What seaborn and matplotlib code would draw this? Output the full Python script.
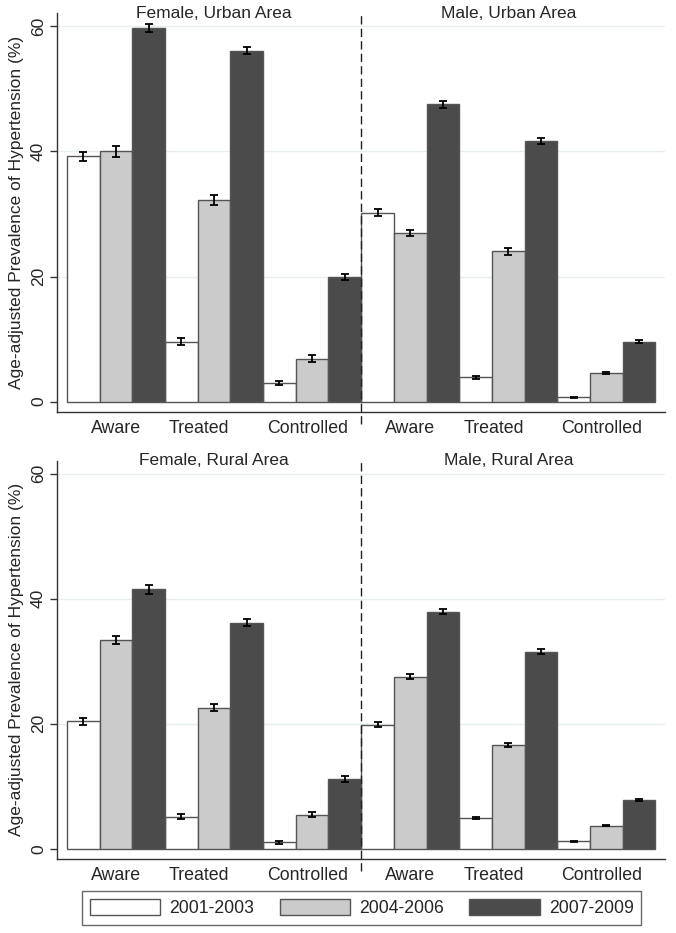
import numpy as np
import pandas as pd
import seaborn as sns
import matplotlib.pyplot as plt
from matplotlib.patches import Patch

# values (% age-adjusted prevalence)
periods = ['2001-2003', '2004-2006', '2007-2009']
measures = ['Aware', 'Treated', 'Controlled']
colors = ['#ffffff', '#cbcbcb', '#4b4b4b']

# rows: Aware, Treated, Controlled ; cols: periods
female_urban = [[39.2, 40.0, 59.7], [9.6, 32.2, 56.1], [3.0, 6.9, 19.9]]
male_urban = [[30.2, 26.9, 47.5], [3.9, 24.0, 41.7], [0.7, 4.6, 9.6]]
female_rural = [[20.4, 33.4, 41.5], [5.1, 22.6, 36.2], [1.0, 5.4, 11.2]]
male_rural = [[19.8, 27.5, 37.9], [4.9, 16.6, 31.5], [1.2, 3.7, 7.8]]

# half-width of the 95% CI
err_female_urban = [[0.7, 0.9, 0.6], [0.5, 0.8, 0.6], [0.3, 0.5, 0.5]]
err_male_urban = [[0.6, 0.5, 0.5], [0.2, 0.5, 0.5], [0.1, 0.2, 0.3]]
err_female_rural = [[0.6, 0.6, 0.7], [0.4, 0.6, 0.6], [0.2, 0.4, 0.5]]
err_male_rural = [[0.4, 0.4, 0.4], [0.2, 0.3, 0.4], [0.1, 0.1, 0.2]]

rows = [
    ('Urban', 'Female, Urban Area', 'Male, Urban Area',
     female_urban, male_urban, err_female_urban, err_male_urban),
    ('Rural', 'Female, Rural Area', 'Male, Rural Area',
     female_rural, male_rural, err_female_rural, err_male_rural),
]

# label positions (Stata puts them a bit left of the group centre)
label_pos = [0, 0.84, 1.95, 3, 3.85, 4.95]

sns.set_style('white')
plt.rcParams['font.family'] = ['Liberation Sans', 'DejaVu Sans']

fig = plt.figure(figsize=(6.76, 9.33), dpi=100)
ax_top = fig.add_axes([0.0843, 0.5584, 0.8997, 0.4276])
ax_bot = fig.add_axes([0.0843, 0.0793, 0.8997, 0.4269])

for ax, (area, t_left, t_right, fvals, mvals, ferr, merr) in zip([ax_top, ax_bot], rows):
    recs = []
    for sex, vals, errs in [('F', fvals, ferr), ('M', mvals, merr)]:
        for i, m in enumerate(measures):
            for j, p in enumerate(periods):
                recs.append({'cat': sex + '-' + m, 'period': p,
                             'value': vals[i][j], 'err': errs[i][j]})
    df = pd.DataFrame(recs)
    order = list(dict.fromkeys(df['cat']))

    for y in [20, 40, 60]:
        ax.axhline(y, color='#e6eef0', lw=1.0, zorder=0)

    sns.barplot(data=df, x='cat', y='value', hue='period', order=order,
                hue_order=periods, palette=colors, width=1.0, errorbar=None,
                edgecolor='#555555', linewidth=1.0, legend=False, ax=ax,
                zorder=2)

    for cont, p in zip(ax.containers, periods):
        sub = df[df['period'] == p].set_index('cat').loc[order]
        xs = [b.get_x() + b.get_width() / 2 for b in cont]
        ax.errorbar(xs, sub['value'], yerr=sub['err'], fmt='none',
                    ecolor='black', elinewidth=1.3, capsize=3.2,
                    capthick=1.3, zorder=3)

    ax.axvline(2.5, color='#222222', lw=1.0, ls=(0, (6, 3)), zorder=4,
               ymin=-0.03, clip_on=False)

    ax.set_xlim(-0.602, 5.6)
    ax.set_ylim(-1.65, 62.1)
    ax.set_yticks([0, 20, 40, 60])
    ax.set_yticklabels(['0', '20', '40', '60'], rotation=90, va='center',
                       fontsize=12.5)
    ax.set_xticks(label_pos)
    ax.set_xticklabels(measures * 2, fontsize=12.8)
    ax.tick_params(axis='x', length=0, pad=6)
    ax.tick_params(axis='y', length=5, width=1, color='#333333', left=True,
                   pad=3)
    ax.set_xlabel('')
    ax.set_ylabel('Age-adjusted Prevalence of Hypertension (%)', fontsize=12.5,
                  labelpad=5)
    for s in ['top', 'right']:
        ax.spines[s].set_visible(False)
    for s in ['left', 'bottom']:
        ax.spines[s].set_color('#333333')
        ax.spines[s].set_linewidth(1.0)

    ax.text(1.0, 62.1, t_left, ha='center', va='center', fontsize=12.5,
            clip_on=False)
    ax.text(4.0, 62.1, t_right, ha='center', va='center', fontsize=12.5,
            clip_on=False)

handles = [Patch(facecolor=c, edgecolor='#555555', lw=1.0) for c in colors]
leg = fig.legend(handles, periods, loc='center', ncol=3,
                 bbox_to_anchor=(0.535, 0.027), fontsize=12.7, frameon=True,
                 fancybox=False, edgecolor='#444444', handlelength=4.0,
                 handleheight=1.0, handletextpad=0.5, columnspacing=1.45,
                 borderpad=0.45)
leg.get_frame().set_linewidth(1.0)

fig.savefig('out.png', dpi=100, facecolor='white')
